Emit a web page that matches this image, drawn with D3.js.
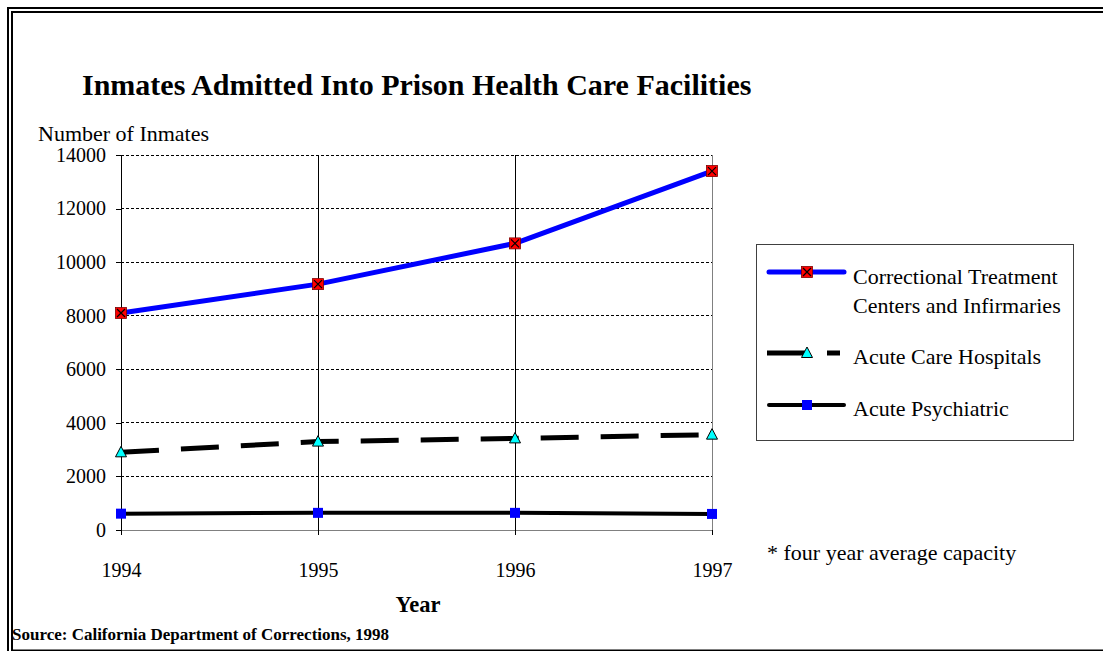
<!DOCTYPE html>
<html><head><meta charset="utf-8">
<script src="https://cdn.jsdelivr.net/npm/d3@7"></script>
<style>body{margin:0;background:#fff;} svg{display:block;} text{font-family:"Liberation Serif","Times New Roman",serif;fill:#000;}</style>
</head><body>
<svg id="chart" width="1103" height="651"></svg>
<script>
const years = [1994, 1995, 1996, 1997];
const correctional = [8100, 9180, 10700, 13400];
const acuteCare = [2900, 3300, 3420, 3560];
const psychiatric = [610, 640, 640, 600];
const yTicks = [0, 2000, 4000, 6000, 8000, 10000, 12000, 14000];
const seriesNames = ["Correctional Treatment|Centers and Infirmaries", "Acute Care Hospitals", "Acute Psychiatric"];

const svg = d3.select("#chart");

// frame (double border)
svg.append("rect").attr("x", 8).attr("y", 8).attr("width", 1200).attr("height", 660)
  .attr("fill", "none").attr("stroke", "#000").attr("stroke-width", 2);
svg.append("rect").attr("x", 12).attr("y", 12).attr("width", 1200).attr("height", 638.5)
  .attr("fill", "none").attr("stroke", "#000").attr("stroke-width", 2);

const x = d3.scalePoint().domain(years).range([121, 712]);
const y = d3.scaleLinear().domain([0, 14000]).range([530, 155]);

// horizontal dashed gridlines
svg.append("g").selectAll("line").data(yTicks.filter(d => d > 0)).join("line")
  .attr("x1", x(1994)).attr("x2", x(1997)).attr("y1", d => y(d)).attr("y2", d => y(d))
  .attr("stroke", "#000").attr("stroke-width", 1).attr("stroke-dasharray", "3,2")
  .attr("shape-rendering", "crispEdges");
// vertical gridlines
svg.append("g").selectAll("line").data(years.slice(1)).join("line")
  .attr("x1", d => x(d)).attr("x2", d => x(d)).attr("y1", y(14000)).attr("y2", y(0))
  .attr("stroke", d => d === 1997 ? "#808080" : "#000").attr("stroke-width", 1)
  .attr("shape-rendering", "crispEdges");

// y axis
const yAxis = d3.axisLeft(y).tickValues(yTicks).tickSize(5).tickPadding(10).tickFormat(d3.format("d"));
const gy = svg.append("g").attr("transform", `translate(${x(1994)},0)`).call(yAxis);
gy.select(".domain").attr("stroke", "#000").attr("shape-rendering", "crispEdges");
gy.selectAll(".tick line").attr("stroke", "#000").attr("shape-rendering", "crispEdges");
gy.selectAll(".tick text").style("font-family", "Liberation Serif").style("font-size", "20px");

// x axis
const xAxis = d3.axisBottom(x).tickSize(5).tickPadding(28).tickSizeOuter(0);
const gx = svg.append("g").attr("transform", `translate(0,${y(0)})`).call(xAxis);
gx.select(".domain").attr("stroke", "#808080").attr("shape-rendering", "crispEdges");
gx.selectAll(".tick line").attr("stroke", "#000").attr("shape-rendering", "crispEdges");
gx.selectAll(".tick text").style("font-family", "Liberation Serif").style("font-size", "20px");

// lines
const line = (vals) => d3.line().x((d, i) => x(years[i])).y(d => y(d))(vals);
svg.append("path").attr("d", line(psychiatric)).attr("fill", "none").attr("stroke", "#000").attr("stroke-width", 4);
svg.append("path").attr("d", line(acuteCare)).attr("fill", "none").attr("stroke", "#000").attr("stroke-width", 5)
  .attr("stroke-dasharray", "38,22");
svg.append("path").attr("d", line(correctional)).attr("fill", "none").attr("stroke", "#0000ff").attr("stroke-width", 5)
  .attr("stroke-linejoin", "round");

function redX(g, cx, cy) {
  g.append("rect").attr("x", cx - 5.5).attr("y", cy - 5.5).attr("width", 11).attr("height", 11)
    .attr("fill", "#ff0000").attr("stroke", "#800000").attr("stroke-width", 0.8);
  g.append("path").attr("d", `M${cx-4},${cy-4}L${cx+4},${cy+4}M${cx+4},${cy-4}L${cx-4},${cy+4}`)
    .attr("stroke", "#000").attr("stroke-width", 1.2);
}
function tri(g, cx, cy) {
  g.append("path").attr("d", `M${cx},${cy-6}L${cx+5.5},${cy+4.5}L${cx-5.5},${cy+4.5}Z`)
    .attr("fill", "#00ffff").attr("stroke", "#000").attr("stroke-width", 1);
}
function sq(g, cx, cy) {
  g.append("rect").attr("x", cx - 5).attr("y", cy - 5).attr("width", 10).attr("height", 10).attr("fill", "#0000ff");
}
const mk = svg.append("g");
psychiatric.forEach((v, i) => sq(mk, x(years[i]), y(v)));
acuteCare.forEach((v, i) => tri(mk, x(years[i]), y(v)));
correctional.forEach((v, i) => redX(mk, x(years[i]), y(v)));

// titles
svg.append("text").attr("x", 82).attr("y", 95).style("font-weight", "bold").style("font-size", "30px")
  .text("Inmates Admitted Into Prison Health Care Facilities");
svg.append("text").attr("x", 38).attr("y", 141).style("font-size", "22px").text("Number of Inmates");
svg.append("text").attr("x", 418).attr("y", 612).attr("text-anchor", "middle").style("font-weight", "bold")
  .style("font-size", "22.5px").text("Year");
svg.append("text").attr("x", 12).attr("y", 640).style("font-weight", "bold").style("font-size", "17px")
  .text("Source: California Department of Corrections, 1998");
svg.append("text").attr("x", 767).attr("y", 560).style("font-size", "22px").text("* four year average capacity");

// legend
const lg = svg.append("g");
lg.append("rect").attr("x", 756.5).attr("y", 244.5).attr("width", 317).attr("height", 196)
  .attr("fill", "#fff").attr("stroke", "#404040").attr("stroke-width", 1);
const lx1 = 769, lx2 = 844, lm = 807;
// entry 1
lg.append("line").attr("x1", lx1).attr("x2", lx2).attr("y1", 272).attr("y2", 272)
  .attr("stroke", "#0000ff").attr("stroke-width", 5).attr("stroke-linecap", "round");
redX(lg, lm, 272);
const n1 = seriesNames[0].split("|");
lg.append("text").attr("x", 853).attr("y", 284).style("font-size", "22px").text(n1[0]);
lg.append("text").attr("x", 853).attr("y", 313).style("font-size", "22px").text(n1[1]);
// entry 2
lg.append("line").attr("x1", 767).attr("x2", 840).attr("y1", 353).attr("y2", 353)
  .attr("stroke", "#000").attr("stroke-width", 5).attr("stroke-dasharray", "38,22");
tri(lg, lm, 353);
lg.append("text").attr("x", 853).attr("y", 364).style("font-size", "22px").text(seriesNames[1]);
// entry 3
lg.append("line").attr("x1", lx1).attr("x2", lx2).attr("y1", 405).attr("y2", 405)
  .attr("stroke", "#000").attr("stroke-width", 4).attr("stroke-linecap", "round");
sq(lg, lm, 405);
lg.append("text").attr("x", 853).attr("y", 416).style("font-size", "22px").text(seriesNames[2]);
</script>
</body></html>
